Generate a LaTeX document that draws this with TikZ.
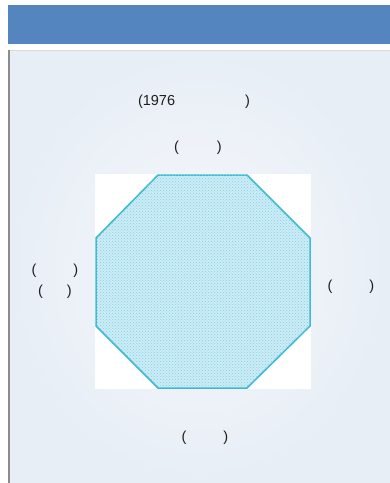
\documentclass[tikz,border=0pt]{standalone}
\usepackage{fontspec}
\setmainfont{Liberation Sans}
\usepackage{xcolor}
\usetikzlibrary{patterns,positioning,calc}

\definecolor{barblue}{RGB}{85,133,190}
\definecolor{panelbg}{RGB}{232,238,246}
\definecolor{octline}{RGB}{58,184,212}
\definecolor{octfill}{RGB}{205,236,246}
\definecolor{txtgray}{RGB}{30,30,30}

\begin{document}
\begin{tikzpicture}[
    x=1pt, y=-1pt,
    lbl/.style={text=txtgray, font=\fontsize{14.5}{17}\selectfont, inner sep=0pt, anchor=center},
    octa/.style={draw=octline, line width=1.5pt, fill=octfill},
    dots/.style={pattern=crosshatch dots, pattern color=octline!65}
]
    \useasboundingbox (0,0) rectangle (390,483);
    \fill[white] (0,0) rectangle (390,483);

    % header bar and panel
    \fill[barblue] (8,5) rectangle (390,44);
    \shade[inner color=panelbg!40, outer color=panelbg] (8,50) rectangle (390,483);
    \draw[gray!30, line width=1pt] (8,50.5) -- (390,50.5);
    \draw[gray!90, line width=1.5pt] (8.75,50) -- (8.75,483);

    % octagon on white square
    \fill[white] (95,174) rectangle (311,389);
    \draw[octa] (158,175) -- (247,175) -- (310,238) -- (310,326)
        -- (247,388) -- (158,388) -- (96,326) -- (96,238) -- cycle;
    \fill[dots] (158,175) -- (247,175) -- (310,238) -- (310,326)
        -- (247,388) -- (158,388) -- (96,326) -- (96,238) -- cycle;

    % labels
    \node[lbl] (year) at (194,102) {(1976\hspace{70pt})};
    \node[lbl] (north) at (198,148) {(\hspace{38pt})};
    \node[lbl] (westa) at (55,271) {(\hspace{37pt})};
    \node[lbl] (westb) at (55,292) {(\hspace{24pt})};
    \node[lbl] (east) at (351,287) {(\hspace{37pt})};
    \node[lbl] (south) at (205,438) {(\hspace{37pt})};
\end{tikzpicture}
\end{document}
